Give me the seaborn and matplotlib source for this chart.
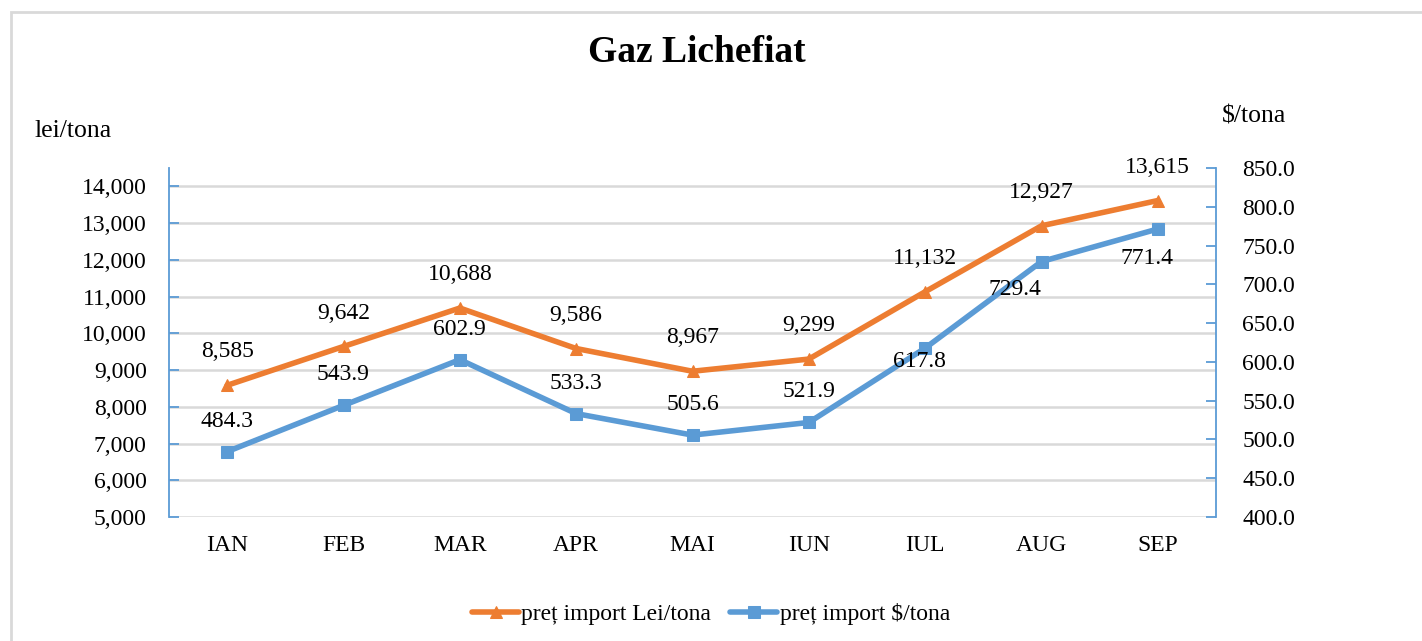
import numpy as np
import pandas as pd
import matplotlib
matplotlib.use('Agg')
import matplotlib.pyplot as plt
from matplotlib.patches import Rectangle
import seaborn as sns

sns.set_theme(style='white')
plt.rcParams['font.family'] = ['Liberation Serif', 'DejaVu Serif']
plt.rcParams['text.color'] = 'black'

# date
luni = ['IAN', 'FEB', 'MAR', 'APR', 'MAI', 'IUN', 'IUL', 'AUG', 'SEP']
pret_lei = [8585, 9642, 10688, 9586, 8967, 9299, 11132, 12927, 13615]
pret_usd = [484.3, 543.9, 602.9, 533.3, 505.6, 521.9, 617.8, 729.4, 771.4]
nume_lei = 'preț import Lei/tona'
nume_usd = 'preț import $/tona'

portocaliu = '#ed7d31'
albastru = '#5b9bd5'

df = pd.DataFrame({'luna': luni, 'lei': pret_lei, 'usd': pret_usd})

fig = plt.figure(figsize=(14.22, 6.41), dpi=100)
ax = fig.add_axes([169/1422, 1 - 517/641, (1216 - 169)/1422, (517 - 168)/641])
ax2 = ax.twinx()

sns.lineplot(data=df, x='luna', y='lei', ax=ax, color=portocaliu, linewidth=4,
             marker='^', markersize=13, markeredgecolor=portocaliu, label=nume_lei,
             legend=False, zorder=3)
sns.lineplot(data=df, x='luna', y='usd', ax=ax2, color=albastru, linewidth=4,
             marker='s', markersize=10.5, markeredgecolor=albastru, label=nume_usd,
             legend=False, zorder=3)

ax.set_xlim(-0.5, len(luni) - 0.5)
ax.set_ylim(5000, 14500)
ax.set_yticks(np.arange(5000, 14001, 1000))
ax.set_yticklabels([f'{v:,}' for v in range(5000, 14001, 1000)])
ax2.set_ylim(400, 850)
ax2.set_yticks(np.arange(400, 851, 50))
ax2.set_yticklabels([f'{v:.1f}' for v in range(400, 851, 50)])

ax.grid(axis='y', color='#d9d9d9', linewidth=1.8)
ax.set_axisbelow(True)
ax2.grid(False)
for a in (ax, ax2):
    for s in ('top', 'bottom'):
        a.spines[s].set_visible(False)
ax2.spines['left'].set_visible(False)
ax.spines['right'].set_visible(False)
ax.spines['left'].set_color(albastru)
ax.spines['left'].set_linewidth(1.3)
ax2.spines['right'].set_color(albastru)
ax2.spines['right'].set_linewidth(1.3)

ax.tick_params(axis='y', direction='in', length=7, color=albastru, width=1.3,
               labelsize=17, labelcolor='black', pad=16, left=True)
ax2.tick_params(axis='y', direction='in', length=7, color=albastru, width=1.3,
                labelsize=17, labelcolor='black', pad=19, right=True)
ax.tick_params(axis='x', length=0, labelsize=17, labelcolor='black', pad=13)
ax.set_xlabel('')
ax.set_ylabel('')
ax2.set_ylabel('')

# etichete valori
for i, v in enumerate(pret_lei):
    ax.annotate(f'{v:,}', (i, v), xytext=(0, 24), textcoords='offset points',
                ha='center', va='center', fontsize=17, color='black')

offs_usd = [(0, 22), (0, 22), (0, 22), (0, 22), (0, 22), (0, 22), (-4, -10), (-19, -20), (-8, -21)]
for i, v in enumerate(pret_usd):
    dx, dy = offs_usd[i]
    ax2.annotate(f'{v:.1f}', (i, v), xytext=(dx, dy), textcoords='offset points',
                 ha='center', va='center', fontsize=17, color='black', zorder=5)

fig.text(697/1422, 1 - 52/641, 'Gaz Lichefiat', ha='center', va='center',
         fontsize=27, fontweight='bold')
fig.text(35/1422, 1 - 131/641, 'lei/tona', ha='left', va='center', fontsize=18.5)
fig.text(1222/1422, 1 - 117/641, '$/tona', ha='left', va='center', fontsize=18.5)

h1, l1 = ax.get_legend_handles_labels()
h2, l2 = ax2.get_legend_handles_labels()
for h in h1 + h2:
    h.set_markersize(8)
fig.legend(h1 + h2, l1 + l2, loc='center', bbox_to_anchor=(0.5, 1 - 614/641),
           ncol=2, frameon=False, fontsize=17, handlelength=2.0, handletextpad=0.1,
           columnspacing=0.8)

fig.patches.append(Rectangle((11/1422, -0.1), 1.5, 1 - 12/641 + 0.1,
                             transform=fig.transFigure, fill=False,
                             edgecolor='#d9d9d9', linewidth=2))

fig.savefig('out.png', dpi=100)
